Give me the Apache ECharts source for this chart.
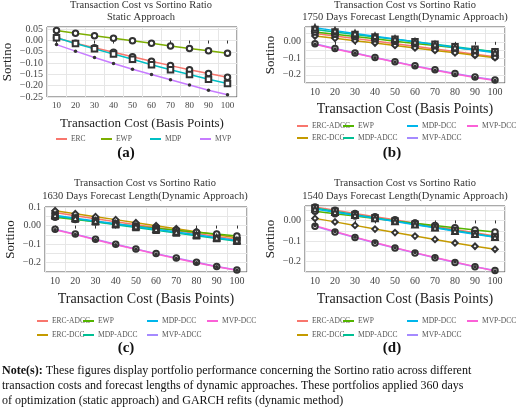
<!DOCTYPE html>
<html><head><meta charset="utf-8">
<script src="https://cdn.jsdelivr.net/npm/echarts@6/dist/echarts.min.js"></script>
<style>html,body{margin:0;padding:0;background:#fff}#c{width:520px;height:414px}</style>
</head><body><div id="c"></div>
<script>
const costs = [10,20,30,40,50,60,70,80,90,100];
// Panel (a) static
const aERC = [0.012,-0.012,-0.032,-0.052,-0.072,-0.092,-0.111,-0.129,-0.146,-0.163];
const aEWP = [0.045,0.032,0.021,0.010,-0.001,-0.012,-0.024,-0.035,-0.045,-0.056];
const aMDP = [0.012,-0.013,-0.036,-0.060,-0.083,-0.107,-0.129,-0.150,-0.171,-0.190];
const aMVP = [-0.018,-0.047,-0.075,-0.102,-0.127,-0.150,-0.174,-0.197,-0.220,-0.240];
// Panel (b) 1750 days
const bERCADCC = [0.050,0.035,0.020,0.005,-0.011,-0.027,-0.043,-0.059,-0.075,-0.090];
const bERCDCC  = [0.035,0.021,0.007,-0.007,-0.022,-0.037,-0.052,-0.067,-0.082,-0.096];
const bEWP     = [0.060,0.046,0.032,0.018,0.004,-0.010,-0.023,-0.036,-0.048,-0.060];
const bMDPADCC = [0.075,0.060,0.045,0.030,0.015,0.000,-0.015,-0.030,-0.045,-0.060];
const bMDPDCC  = [0.085,0.068,0.051,0.034,0.017,0.000,-0.017,-0.034,-0.050,-0.066];
const bMVPADCC = [-0.012,-0.040,-0.068,-0.095,-0.121,-0.146,-0.170,-0.193,-0.214,-0.232];
const bMVPDCC  = [-0.015,-0.043,-0.070,-0.097,-0.123,-0.148,-0.172,-0.195,-0.216,-0.235];
// Panel (c) 1630 days
const cERCADCC = [0.070,0.053,0.037,0.021,0.005,-0.011,-0.027,-0.043,-0.059,-0.075];
const cERCDCC  = [0.080,0.064,0.048,0.032,0.015,-0.001,-0.017,-0.033,-0.049,-0.065];
const cEWP     = [0.045,0.033,0.021,0.009,-0.003,-0.014,-0.025,-0.036,-0.046,-0.056];
const cMDPADCC = [0.050,0.035,0.020,0.005,-0.010,-0.025,-0.040,-0.055,-0.070,-0.085];
const cMDPDCC  = [0.055,0.040,0.025,0.010,-0.005,-0.020,-0.035,-0.050,-0.065,-0.080];
const cMVPADCC = [-0.020,-0.046,-0.074,-0.101,-0.126,-0.151,-0.175,-0.198,-0.220,-0.239];
const cMVPDCC  = [-0.022,-0.048,-0.076,-0.103,-0.128,-0.153,-0.177,-0.200,-0.222,-0.241];
// Panel (d) 1540 days
const dERCADCC = [0.065,0.050,0.034,0.018,0.003,-0.013,-0.029,-0.044,-0.060,-0.075];
const dERCDCC  = [0.010,-0.007,-0.024,-0.042,-0.059,-0.076,-0.092,-0.109,-0.125,-0.140];
const dEWP     = [0.045,0.033,0.021,0.009,-0.003,-0.014,-0.025,-0.036,-0.046,-0.056];
const dMDPADCC = [0.060,0.044,0.028,0.013,-0.003,-0.018,-0.034,-0.049,-0.065,-0.080];
const dMDPDCC  = [0.055,0.040,0.025,0.010,-0.005,-0.021,-0.036,-0.052,-0.067,-0.082];
const dMVPADCC = [-0.028,-0.056,-0.083,-0.109,-0.134,-0.158,-0.181,-0.204,-0.225,-0.243];
const dMVPDCC  = [-0.025,-0.054,-0.081,-0.107,-0.132,-0.156,-0.180,-0.202,-0.224,-0.245];

const F = 'Liberation Serif';
const C7 = {'ERC-ADCC':'#F8766D','ERC-DCC':'#C49A00','EWP':'#53B400','MDP-ADCC':'#00C094','MDP-DCC':'#00B6EB','MVP-ADCC':'#A58AFF','MVP-DCC':'#FB61D7'};
const C4 = {'ERC':'#F8766D','EWP':'#7CAE00','MDP':'#00BFC4','MVP':'#C77CFF'};
const SYM = {'ERC':'emptyCircle','EWP':'emptyCircle','MDP':'emptyRect','MVP':'circle',
 'ERC-ADCC':'emptyCircle','ERC-DCC':'emptyDiamond','MDP-ADCC':'emptyRect','MDP-DCC':'emptyTriangle','MVP-ADCC':'emptyCircle','MVP-DCC':'circle'};

const grids = [
 {left:45,top:27,width:192,height:70},
 {left:305,top:27,width:200,height:56},
 {left:45,top:207,width:202,height:65},
 {left:305,top:206,width:200,height:66}
];
const yr = [[-0.25,0.06],[-0.25,0.09],[-0.25,0.1],[-0.25,0.07]];
const near = (v,s)=>Math.abs(v/s-Math.round(v/s))<1e-6;
const fmtA = v => { if(!near(v,0.05)) return ''; return Math.abs(v)<1e-9?'0.00':(v<0?'\u2212':'')+Math.abs(v).toFixed(2); };
const fmtB = v => { if(Math.abs(v)<1e-9) return '0.00'; if(near(v,0.1)) return (v<0?'\u2212':'')+Math.abs(v).toFixed(1); return ''; };

const xAxis=[], yAxis=[], series=[], legend=[];
grids.forEach((g,i)=>{
 xAxis.push({type:'category',gridIndex:i,data:costs,boundaryGap:true,
  name:'Transaction Cost (Basis Points)',nameLocation:'middle',nameGap:i==1?19:20,
  nameTextStyle:{fontFamily:F,fontSize:i==0?13:14,color:'#222'},
  axisLine:{show:false},axisTick:{show:true,lineStyle:{color:'#333'},length:3,alignWithLabel:true},
  axisLabel:{fontFamily:F,fontSize:i==0?9:10,color:'#444',margin:4,interval:0},
  splitLine:{show:true,lineStyle:{color:'#e6e6e6'}}});
 yAxis.push({type:'value',gridIndex:i,min:yr[i][0],max:yr[i][1],interval:0.05,
  name:'Sortino',nameLocation:'middle',nameGap:i==0?33:28,
  nameTextStyle:{fontFamily:F,fontSize:13,color:'#222'},
  axisLine:{show:false},axisTick:{show:false},
  axisLabel:{fontFamily:F,fontSize:10,color:'#444',margin:4,formatter:i==0?fmtA:fmtB},
  splitLine:{show:true,lineStyle:{color:'#e6e6e6'}}});
});
const gridsOpt = grids.map(g=>Object.assign({show:true,borderColor:'#555',borderWidth:1,backgroundColor:'#fff'},g));

function addSeries(gi,name,data,col){
 series.push({type:'line',name:name+'#'+gi,xAxisIndex:gi,yAxisIndex:gi,data:data,
  symbol:SYM[name],showSymbol:true,symbolSize:SYM[name]=='circle'?3.5:5.5,
  lineStyle:{color:col,width:1.5},
  itemStyle:{color:'#333',borderWidth:1},
  emphasis:{disabled:true},z:3});
}
function addLegend(gi,name,col,left,top){
 legend.push({left:left,top:top,icon:'rect',itemWidth:11,itemHeight:2,itemGap:0,padding:0,
  data:[{name:name+'#'+gi,itemStyle:{color:col,borderWidth:0}}],
  formatter:()=>name,textStyle:{fontFamily:F,fontSize:7.5,color:'#555',padding:[0,0,0,-1]},selectedMode:false});
}
// (a)
[['ERC',56],['EWP',101],['MDP',150],['MVP',200]].forEach(([n,d])=>{});
[['ERC',aERC],['EWP',aEWP],['MDP',aMDP],['MVP',aMVP]].forEach(([n,d])=>addSeries(0,n,d,C4[n]));
[['ERC',56],['EWP',101],['MDP',150],['MVP',200]].forEach(([n,x])=>addLegend(0,n,C4[n],x,135));
// dynamic panels
const dyn = [
 [1,{ 'ERC-ADCC':bERCADCC,'ERC-DCC':bERCDCC,'EWP':bEWP,'MDP-ADCC':bMDPADCC,'MDP-DCC':bMDPDCC,'MVP-ADCC':bMVPADCC,'MVP-DCC':bMVPDCC}],
 [2,{ 'ERC-ADCC':cERCADCC,'ERC-DCC':cERCDCC,'EWP':cEWP,'MDP-ADCC':cMDPADCC,'MDP-DCC':cMDPDCC,'MVP-ADCC':cMVPADCC,'MVP-DCC':cMVPDCC}],
 [3,{ 'ERC-ADCC':dERCADCC,'ERC-DCC':dERCDCC,'EWP':dEWP,'MDP-ADCC':dMDPADCC,'MDP-DCC':dMDPDCC,'MVP-ADCC':dMVPADCC,'MVP-DCC':dMVPDCC}]
];
dyn.forEach(([gi,obj])=>{
 Object.keys(obj).forEach(n=>addSeries(gi,n,obj[n],C7[n]));
 const ox = gi==2?0:260;
 const r1 = gi==1?122:317, r2 = gi==1?134:331;
 [['ERC-ADCC',37,r1],['EWP',83,r1],['MDP-DCC',147,r1],['MVP-DCC',207,r1],
  ['ERC-DCC',37,r2],['MDP-ADCC',83,r2],['MVP-ADCC',147,r2]].forEach(([n,x,y])=>addLegend(gi,n,C7[n],ox+x,y));
});

const tt = (x,y,t)=>({type:'text',x:x,y:y,style:{text:t,fontFamily:F,fontSize:10.5,fill:'#333',align:'center'}});
const lab = (x,y,t)=>({type:'text',x:x,y:y,style:{text:t,fontFamily:F,fontSize:15,fontWeight:'bold',fill:'#111',align:'center'}});
const graphic = [
 tt(141,0,'Transaction Cost vs Sortino Ratio'), tt(141,12,'Static Approach'),
 tt(405,0,'Transaction Cost vs Sortino Ratio'), tt(405,12,'1750 Days Forecast Length(Dynamic Approach)'),
 tt(145,178,'Transaction Cost vs Sortino Ratio'), tt(145,191,'1630 Days Forecast Length(Dynamic Approach)'),
 tt(405,178,'Transaction Cost vs Sortino Ratio'), tt(405,191,'1540 Days Forecast Length(Dynamic Approach)'),
 lab(126,146,'(a)'), lab(392,146,'(b)'), lab(126,341,'(c)'), lab(392,341,'(d)'),
 {type:'text',x:2,y:363,style:{
   text:'{b|Note(s):} These figures display portfolio performance concerning the Sortino ratio across different\ntransaction costs and forecast lengths of dynamic approaches. These portfolios applied 360 days\nof optimization (static approach) and GARCH refits (dynamic method)',
   fontFamily:F,fontSize:12,fill:'#111',lineHeight:15,
   rich:{b:{fontFamily:F,fontSize:12,fontWeight:'bold',fill:'#111'}}}}
];

const chart = echarts.init(document.getElementById('c'),null,{renderer:'canvas'});
chart.setOption({animation:false,grid:gridsOpt,xAxis,yAxis,series,legend,graphic});
</script></body></html>
